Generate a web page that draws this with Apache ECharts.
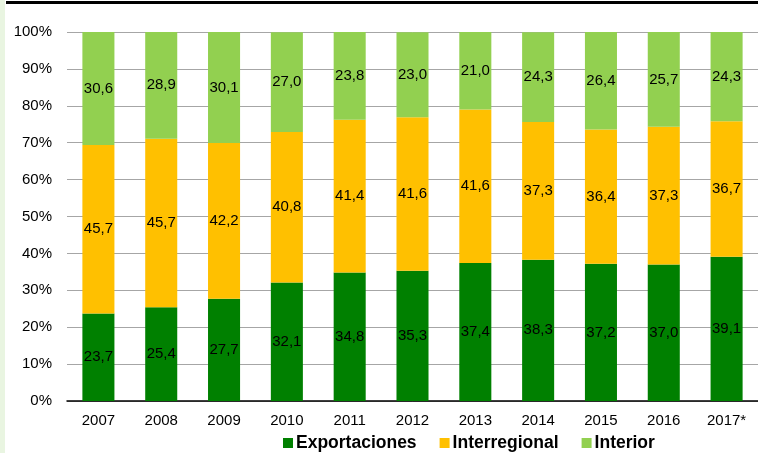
<!DOCTYPE html>
<html>
<head>
<meta charset="utf-8">
<script src="https://cdn.jsdelivr.net/npm/echarts@6/dist/echarts.min.js"></script>
<style>
  html, body { margin: 0; padding: 0; background: #ffffff; }
  #chart { width: 758px; height: 453px; }
</style>
</head>
<body>
<div id="chart"></div>
<script>
// Years on the category axis
const years = ['2007', '2008', '2009', '2010', '2011', '2012', '2013', '2014', '2015', '2016', '2017*'];

// Share of each destination (%)
const exportaciones = [23.7, 25.4, 27.7, 32.1, 34.8, 35.3, 37.4, 38.3, 37.2, 37.0, 39.1];
const interregional = [45.7, 45.7, 42.2, 40.8, 41.4, 41.6, 41.6, 37.3, 36.4, 37.3, 36.7];
const interior      = [30.6, 28.9, 30.1, 27.0, 23.8, 23.0, 21.0, 24.3, 26.4, 25.7, 24.3];

const seriesNames = ['Exportaciones', 'Interregional', 'Interior'];
const seriesColors = ['#008000', '#FFC000', '#92D050'];
const seriesData = [exportaciones, interregional, interior];

const FONT = '"Liberation Sans", Arial, sans-serif';

const chart = echarts.init(document.getElementById('chart'), null, { renderer: 'canvas' });

chart.setOption({
  animation: false,
  backgroundColor: '#ffffff',
  graphic: [
    { type: 'rect', shape: { x: 0, y: 0, width: 5, height: 453 }, style: { fill: '#E9F5E1' } },
    { type: 'rect', shape: { x: 6, y: 1, width: 752, height: 3 }, style: { fill: '#000000' } }
  ],
  grid: { left: 67, right: 0, top: 32, bottom: 52 },
  legend: {
    data: seriesNames,
    left: 283,
    top: 434,
    padding: 0,
    itemWidth: 10,
    itemHeight: 10,
    itemGap: 23,
    icon: 'rect',
    textStyle: { fontFamily: FONT, fontSize: 17.5, fontWeight: 'bold', color: '#000', padding: [0, 0, 0, -2] }
  },
  xAxis: {
    type: 'category',
    data: years,
    axisLine: { lineStyle: { color: '#000', width: 1.5 } },
    axisTick: { show: false },
    axisLabel: { fontFamily: FONT, fontSize: 15, color: '#000', margin: 12 }
  },
  yAxis: {
    type: 'value',
    min: 0,
    max: 100,
    interval: 10,
    axisLine: { show: false },
    axisTick: { show: false },
    splitLine: { lineStyle: { color: '#A6A6A6', width: 1 } },
    axisLabel: {
      fontFamily: FONT, fontSize: 15, color: '#000', margin: 15,
      formatter: v => v + '%'
    }
  },
  series: seriesNames.map((name, i) => ({
    name: name,
    type: 'bar',
    stack: 'total',
    barWidth: '51%',
    data: seriesData[i],
    itemStyle: { color: seriesColors[i] },
    label: {
      show: true,
      position: 'inside',
      fontFamily: FONT,
      fontSize: 15,
      color: '#000',
      formatter: p => p.value.toFixed(1).replace('.', ',')
    }
  }))
});
</script>
</body>
</html>
